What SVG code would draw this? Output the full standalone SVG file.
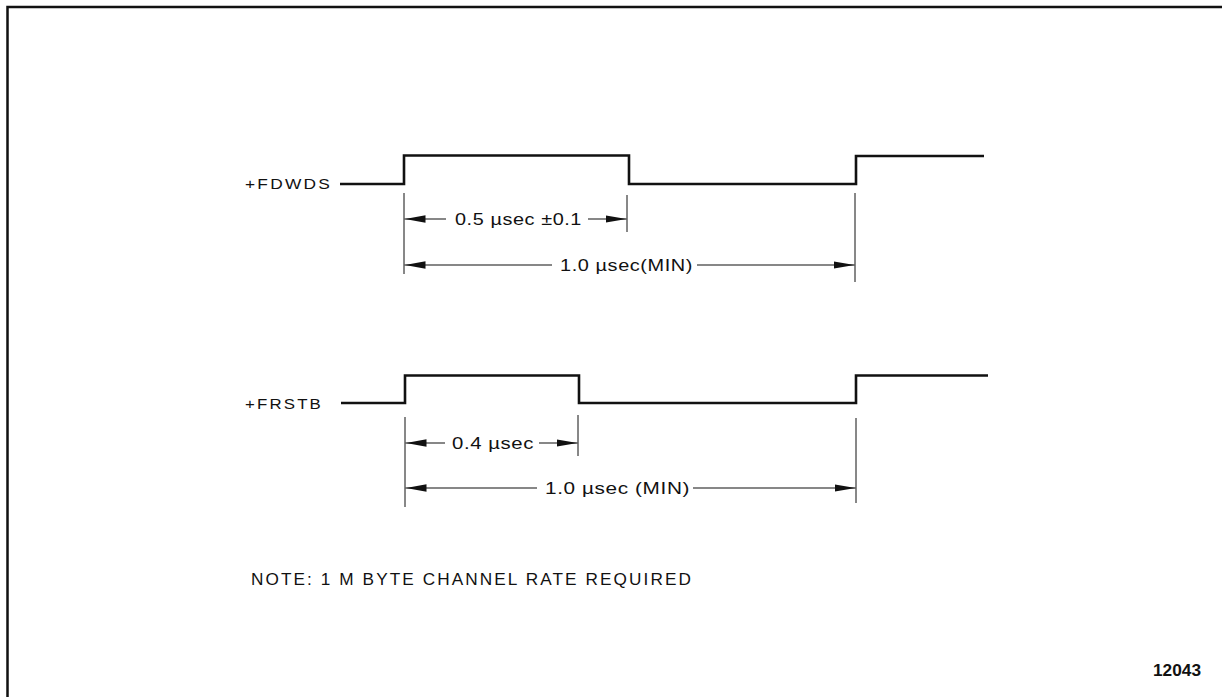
<svg xmlns="http://www.w3.org/2000/svg" width="1222" height="697" viewBox="0 0 1222 697">
<style>
.bg{fill:#fff}
.frame{fill:none;stroke:#111;stroke-width:2.5}
.wave{fill:none;stroke:#111;stroke-width:2.6;stroke-linejoin:miter}
.tick{fill:none;stroke:#111;stroke-width:1}
.dim{fill:none;stroke:#111;stroke-width:1.2}
.lbl{font-family:"Liberation Sans",Arial,sans-serif;font-size:15.5px;fill:#111;letter-spacing:2px}
.dtx{font-family:"Liberation Sans",Arial,sans-serif;font-size:17px;fill:#111;letter-spacing:0.5px}
.note{font-family:"Liberation Sans",Arial,sans-serif;font-size:16.5px;fill:#111;letter-spacing:2px}
.num{font-family:"Liberation Sans",Arial,sans-serif;font-size:16.5px;font-weight:bold;fill:#111}
</style>
<defs>
<marker id="ah" viewBox="0 0 21 9" refX="21" refY="4.5" markerWidth="21" markerHeight="9" markerUnits="userSpaceOnUse" orient="auto-start-reverse">
<path d="M0,0.8 L21,4.5 L0,8.2 Z" fill="#111"/>
</marker>
</defs>
<rect class="bg" x="0" y="0" width="1222" height="697"/>
<path class="frame" d="M7.5,697 V7 H1222"/>

<g id="fdwds">
<text class="lbl" x="245" y="189" textLength="87" lengthAdjust="spacingAndGlyphs">+FDWDS</text>
<path class="wave" d="M340,184 H404 V155.5 H629 V184 H856 V156 H984"/>
</g>

<g id="frstb">
<text class="lbl" x="245" y="409" textLength="78" lengthAdjust="spacingAndGlyphs">+FRSTB</text>
<path class="wave" d="M341,403 H405 V375.5 H579 V403 H856 V375.5 H988"/>
</g>

<g id="connectors">
<line class="tick" x1="404" y1="193" x2="404" y2="274"/>
<line class="tick" x1="627" y1="195" x2="627" y2="232"/>
<line class="tick" x1="855" y1="193" x2="855" y2="282"/>
<line class="dim" x1="446" y1="219" x2="404.5" y2="219" marker-end="url(#ah)"/>
<line class="dim" x1="588" y1="219" x2="626.5" y2="219" marker-end="url(#ah)"/>
<line class="dim" x1="552" y1="265" x2="404.5" y2="265" marker-end="url(#ah)"/>
<line class="dim" x1="697" y1="265" x2="854.5" y2="265" marker-end="url(#ah)"/>

<line class="tick" x1="405" y1="417" x2="405" y2="507"/>
<line class="tick" x1="578" y1="415" x2="578" y2="456"/>
<line class="tick" x1="856" y1="418" x2="856" y2="503"/>
<line class="dim" x1="445" y1="443" x2="405.5" y2="443" marker-end="url(#ah)"/>
<line class="dim" x1="539" y1="443" x2="577.5" y2="443" marker-end="url(#ah)"/>
<line class="dim" x1="537" y1="488" x2="405.5" y2="488" marker-end="url(#ah)"/>
<line class="dim" x1="693" y1="488" x2="855.5" y2="488" marker-end="url(#ah)"/>
</g>

<g id="labels">
<text class="dtx" x="455" y="225" textLength="127" lengthAdjust="spacingAndGlyphs">0.5 µsec ±0.1</text>
<text class="dtx" x="560" y="271" textLength="133" lengthAdjust="spacingAndGlyphs">1.0 µsec(MIN)</text>
<text class="dtx" x="452" y="449" textLength="82" lengthAdjust="spacingAndGlyphs">0.4 µsec</text>
<text class="dtx" x="545" y="494" textLength="145" lengthAdjust="spacingAndGlyphs">1.0 µsec  (MIN)</text>
</g>

<g id="note">
<text class="note" x="251" y="585" textLength="442" lengthAdjust="spacingAndGlyphs">NOTE: 1 M BYTE CHANNEL RATE REQUIRED</text>
</g>
<g id="figno">
<text class="num" x="1153" y="676" textLength="48" lengthAdjust="spacingAndGlyphs">12043</text>
</g>
</svg>
